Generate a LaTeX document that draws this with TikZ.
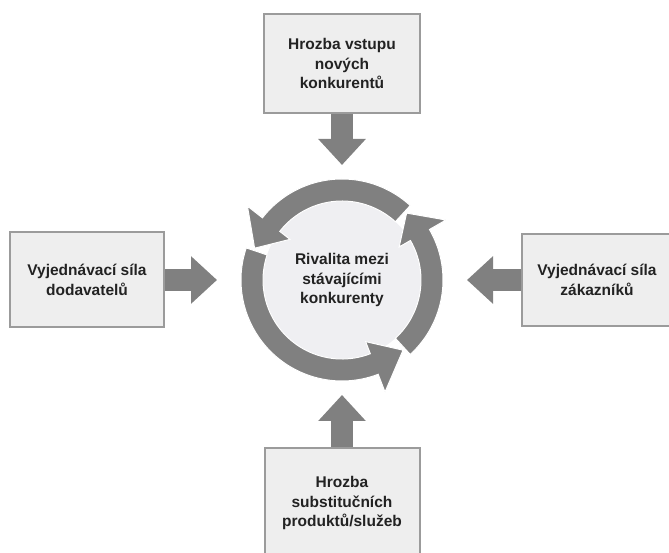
\documentclass[tikz,border=0pt]{standalone}
\usepackage{fontspec}
\setmainfont{Liberation Sans}
\usepackage{tikz}
\usetikzlibrary{arrows.meta}
\definecolor{ringgray}{HTML}{808080}
\definecolor{boxfill}{HTML}{EEEEEE}
\definecolor{boxline}{HTML}{9B9B9B}
\definecolor{hubfill}{HTML}{EFEFF2}
\definecolor{txt}{HTML}{222222}
\tikzstyle{label} = [align=center, text=txt, font={\fontsize{15.5}{19.5}\selectfont\bfseries}]
\tikzstyle{force} = [label, draw=boxline, line width=2pt, fill=boxfill, minimum width=156pt]
\tikzstyle{hub} = [label, circle, fill=hubfill, minimum size=158pt, inner sep=0pt, outer sep=0pt]
\tikzstyle{push} = [draw=ringgray, line width=22pt, -{Triangle[width=46pt,length=26pt]}]
\tikzstyle{turn} = [fill=ringgray, draw=white, line width=1pt]
% one piece of the ring: tail angle, head back angle, tip angle
\newcommand{\ringarrow}[3]{%
  \filldraw[turn] (#1:101pt) arc[start angle=#1, end angle=#2, radius=101pt]
    -- (#2:120pt) -- (#3:93pt) -- (#2:66pt) -- (#2:79pt)
    arc[start angle=#2, end angle=#1, radius=79pt] -- cycle;}

\begin{document}
\begin{tikzpicture}[x=1pt,y=1pt]
  \useasboundingbox (0,0) rectangle (669,553);
  \node[hub](rival) at (342,273){Rivalita mezi\\stávajícími\\konkurenty};
  \begin{scope}[shift={(rival.center)}]
    \ringarrow{47.5}{142}{160}
    \ringarrow{161.5}{291}{311}
    \ringarrow{312.5}{390}{406}
  \end{scope}
  \node[force,minimum height=99pt](entry) at (342,489.5){Hrozba vstupu\\nových\\konkurentů};
  \node[force,minimum height=95pt,minimum width=154pt](supply) at (87,273){Vyjednávací síla\\dodavatelů};
  \node[force,minimum height=92pt,minimum width=150pt](buyers) at (597,273){Vyjednávací síla\\zákazníků};
  \node[force,minimum height=110pt,minimum width=155pt](subst) at (342,50){Hrozba\\substitučních\\produktů/služeb};
  \draw[push,shorten >=36pt](entry)--(rival);
  \draw[push,shorten >=46pt](supply)--(rival);
  \draw[push,shorten >=46pt](buyers)--(rival);
  \draw[push,shorten >=36pt](subst)--(rival);
\end{tikzpicture}
\end{document}
